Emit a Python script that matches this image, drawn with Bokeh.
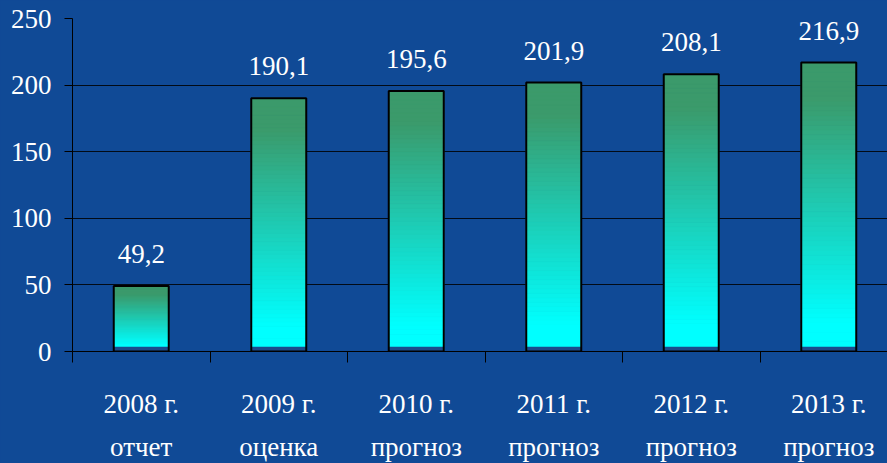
import numpy as np
from bokeh.plotting import figure
from bokeh.models import Range1d, FixedTicker, ColumnDataSource, LabelSet
from bokeh.core.properties import value
from bokeh.embed import file_html
from bokeh.resources import INLINE

# ---- data ----
years = ["2008 г.", "2009 г.", "2010 г.", "2011 г.", "2012 г.", "2013 г."]
status = ["отчет", "оценка", "прогноз", "прогноз", "прогноз", "прогноз"]
values = [49.2, 190.1, 195.6, 201.9, 208.1, 216.9]
value_labels = ["49,2", "190,1", "195,6", "201,9", "208,1", "216,9"]
y_ticks = [0, 50, 100, 150, 200, 250]

# ---- style ----
BG = "#104a96"
FONT = "Liberation Serif"
FS = "27px"
BAR_W = 0.4
TOP_COL = np.array([59, 154, 107])
BOT_COL = np.array([0, 255, 255])
NSLICE = 60

n = len(values)
centers = [i + 0.5 for i in range(n)]

p = figure(frame_width=815, frame_height=333, output_backend="svg", toolbar_location=None,
           x_range=Range1d(0, 815 / 137.5), y_range=Range1d(0, 250),
           min_border_left=72, min_border_right=0, min_border_top=18,
           min_border_bottom=112)
p.background_fill_color = BG
p.border_fill_color = BG
p.outline_line_color = None

# gradient bars: green at the top of each bar -> cyan at its bottom
L, R, B, T, C = [], [], [], [], []
for c, v in zip(centers, values):
    for k in range(NSLICE):
        f = (k + 0.5) / NSLICE
        s = min(max((f - 0.1) / 0.78, 0.0), 1.0)
        col = BOT_COL + (TOP_COL - BOT_COL) * s
        L.append(c - BAR_W / 2)
        R.append(c + BAR_W / 2)
        B.append(v * k / NSLICE)
        T.append(v * (k + 1) / NSLICE)
        C.append("#%02x%02x%02x" % tuple(int(round(x)) for x in col))
p.quad(left=L, right=R, bottom=B, top=T, fill_color=C, line_color=C, line_width=1)

bars = ColumnDataSource(dict(
    x=centers, v=values, lab=value_labels,
    l=[c - BAR_W / 2 for c in centers], r=[c + BAR_W / 2 for c in centers],
    zero=[0] * n, base=[3.5] * n))
# dark base strip
p.quad(left="l", right="r", bottom="zero", top="base", source=bars,
       fill_color="#1a4c8c", line_color=None)
# outline
p.quad(left="l", right="r", bottom="zero", top="v", source=bars,
       fill_color=None, line_color="black", line_width=2)

# value labels
p.add_layout(LabelSet(x="x", y="v", text="lab", source=bars, y_offset=32,
                      text_align="center", text_baseline="middle",
                      text_font=value(FONT), text_font_size=FS, text_color="white"))

# y axis
p.yaxis.ticker = FixedTicker(ticks=y_ticks)
p.yaxis.bounds = (-8.3, 250)
p.yaxis.major_tick_out = 8
p.yaxis.major_tick_in = 0
p.yaxis.minor_tick_line_color = None
p.yaxis.axis_line_color = "black"
p.yaxis.major_tick_line_color = "black"
p.yaxis.major_label_standoff = 13
p.yaxis.major_label_text_font = FONT
p.yaxis.major_label_text_font_size = FS
p.yaxis.major_label_text_color = "white"

# x axis: two-line category labels at centres, tick marks at boundaries
p.xaxis.ticker = FixedTicker(ticks=centers, minor_ticks=list(range(n + 1)))
p.xaxis.major_label_overrides = {c: f"{y}\n{s}" for c, y, s in zip(centers, years, status)}
p.xaxis.major_label_text_font = FONT
p.xaxis.major_label_text_font_size = FS
p.xaxis.major_label_text_color = "white"
p.xaxis.major_label_text_line_height = 1.45
p.xaxis.major_label_standoff = 26
p.xaxis.major_tick_line_color = None
p.xaxis.major_tick_out = 0
p.xaxis.major_tick_in = 0
p.xaxis.minor_tick_out = 11
p.xaxis.minor_tick_in = 0
p.xaxis.minor_tick_line_color = "black"
p.xaxis.axis_line_color = "black"

# grid
p.xgrid.grid_line_color = None
p.ygrid.ticker = FixedTicker(ticks=y_ticks)
p.ygrid.grid_line_color = "black"
p.ygrid.grid_line_alpha = 0.85

html = file_html(p, INLINE, title="chart")
html = html.replace("<head>", "<head><style>html,body{background:%s;overflow:hidden;}</style>" % BG, 1)
open("out.html", "w").write(html)
